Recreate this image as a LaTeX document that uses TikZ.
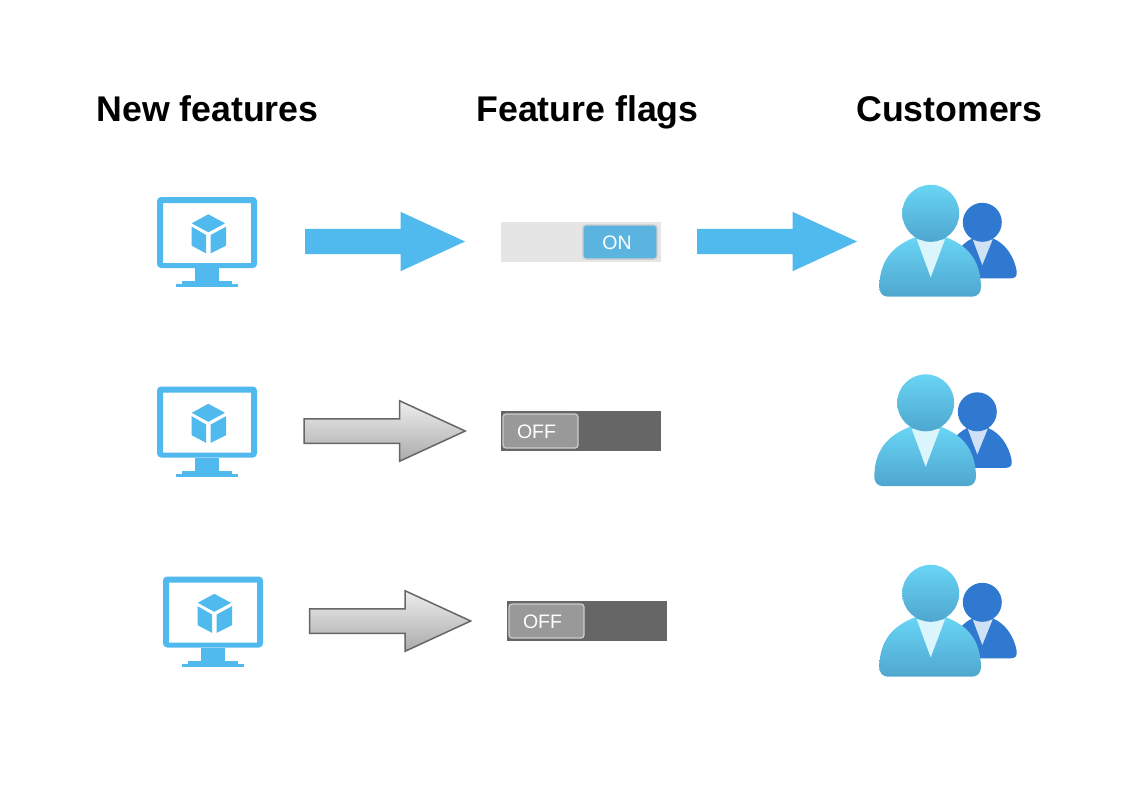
\documentclass[tikz,border=0pt]{standalone}
\usepackage{fontspec}
\setmainfont{Liberation Sans}
\usepackage{xcolor}
\usetikzlibrary{shapes.arrows}

\definecolor{monblue}{HTML}{50B9EE}
\definecolor{userlight}{HTML}{69D5F5}
\definecolor{userdark}{HTML}{4FA6CE}
\definecolor{backblue}{HTML}{3079D0}
\definecolor{onblue}{HTML}{5BB4E0}

\tikzset{
    title/.style={font=\bfseries\fontsize{35.7}{36}\selectfont, anchor=base},
    bluearrow/.style={shape=single arrow, anchor=tip, fill=monblue, inner xsep=0pt, inner ysep=12.5pt,
        minimum height=160pt, single arrow head extend=17pt, single arrow tip angle=49.5,
        single arrow head indent=0pt},
    grayarrow/.style={shape=single arrow, anchor=tip, draw=black!60, line width=1.5pt, top color=black!7,
        bottom color=black!33, inner xsep=0pt, inner ysep=11.5pt, minimum height=161pt,
        single arrow head extend=18pt, single arrow tip angle=49.5, single arrow head indent=0pt},
    track/.style={inner sep=0pt, minimum width=160pt, minimum height=40pt},
    knob/.style={text=white, font=\fontsize{19.5}{20}\selectfont, draw=black!20, line width=1.3pt,
        rounded corners=3pt, inner sep=0pt, minimum height=34pt, text height=15pt, text depth=0pt},
    monitor/.pic={
        % Screen frame
        \fill[monblue, rounded corners=4pt, even odd rule] (157,197) rectangle (257,268)
            [sharp corners] (163,203) rectangle (251,263);
        % Stand
        \fill[monblue] (195,268) rectangle (219,281);
        \fill[monblue] (182,281) rectangle (232,284);
        \fill[monblue] (176,284) rectangle (238,287);
        % Cube
        \fill[monblue] (208.3,214.3) -- (225,223.3) -- (208.3,232.3) -- (191.7,223.3) -- cycle;
        \fill[monblue] (191.7,226.7) -- (206,235) -- (206,253.3) -- (191.7,245.7) -- cycle;
        \fill[monblue] (226,226.7) -- (210.7,235) -- (210.7,253.3) -- (226,245.7) -- cycle;
    },
    users/.pic={
        % Person at the back
        \fill[backblue] (948,278.3) .. controls (950,258) and (960,244) .. (973,238)
            -- (992,238) .. controls (1005,243) and (1014,256) .. (1016.7,271)
            .. controls (1017.5,276) and (1015,278.3) .. (1011,278.3) -- cycle;
        \fill[backblue!22!white] (972.7,239.3) -- (992.7,239.3) -- (982.3,265) -- cycle;
        \fill[backblue] (982.3,222.3) circle (19.5pt);
        % Person in front
        \shade[top color=userlight, middle color=userlight, bottom color=userdark]
            (888,296.7) .. controls (882,296.7) and (879,292) .. (879.3,286)
            .. controls (880,262) and (891,246) .. (916,237) -- (945,237)
            .. controls (970,246) and (980,262) .. (981,286)
            .. controls (981.3,292) and (978,296.7) .. (972,296.7) -- cycle;
        \fill[userlight!25!white] (916.7,239.3) -- (945,239.3) -- (930.7,277.3) -- cycle;
        \shade[top color=userlight, middle color=userlight, bottom color=userdark]
            (930.7,213.3) circle (28.5pt);
    },
}

\begin{document}
\begin{tikzpicture}[x=1pt, y=-1pt]
    \useasboundingbox (0,0) rectangle (1142,796);
    % Column titles
    \node[title] (newtitle) at (207.5,121) {New features};
    \node[title] (flagtitle) at (587.5,121) {Feature flags};
    \node[title] (custtitle) at (949.5,121) {Customers};
    % Row with the flag on
    \pic at (0,0) {monitor};
    \node[bluearrow] (arrowa) at (465.5,241.5) {};
    \node[track, fill=black!10] (tracka) at (581,242) {};
    \node[knob, fill=onblue, minimum width=74pt] (knoba) at (620,242) {ON\hspace*{6pt}};
    \node[bluearrow] (arrowb) at (857.5,241.5) {};
    \pic at (0,0) {users};
    % Rows with the flag off
    \pic at (0,189.5) {monitor};
    \node[grayarrow] (arrowc) at (467,431) {};
    \node[track, fill=black!60] (trackb) at (581,431) {};
    \node[knob, fill=black!40, minimum width=75pt] (knobb) at (540.5,431) {OFF\hspace*{8pt}};
    \pic at (-5,189.5) {users};
    \pic at (6,379.5) {monitor};
    \node[grayarrow] (arrowd) at (472.5,621) {};
    \node[track, fill=black!60] (trackc) at (587,621) {};
    \node[knob, fill=black!40, minimum width=75pt] (knobc) at (546.5,621) {OFF\hspace*{8pt}};
    \pic at (0,380) {users};
\end{tikzpicture}
\end{document}
